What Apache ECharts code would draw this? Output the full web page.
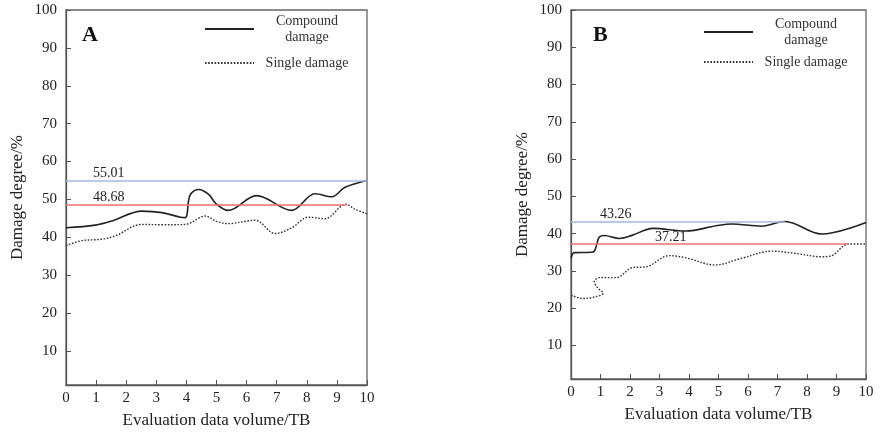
<!DOCTYPE html>
<html>
<head>
<meta charset="utf-8">
<script src="https://cdn.jsdelivr.net/npm/echarts@6/dist/echarts.min.js"></script>
<style>html,body{margin:0;padding:0;background:#fff;}#c{width:882px;height:434px;}</style>
</head>
<body>
<div id="c"></div>
<script>
// ---- data ----
const xTicks = [0, 1, 2, 3, 4, 5, 6, 7, 8, 9, 10];
const yTicks = [10, 20, 30, 40, 50, 60, 70, 80, 90, 100];
const seriesNames = ['Compound damage', 'Single damage'];

const compoundA = [[0, 42.5], [0.97, 43.2], [1.53, 44.3], [2.52, 46.9], [3.19, 46.5], [3.8, 45.3], [3.97, 45.2], [4.03, 46.5], [4.06, 49.0], [4.14, 51.4], [4.41, 52.6], [4.74, 51.3], [4.98, 48.9], [5.39, 47.1], [6.33, 51.0], [7.5, 47.1], [8.27, 51.5], [8.83, 50.7], [9.27, 53.2], [10, 55.0]];
const singleA = [[0, 37.8], [0.53, 39.1], [1.2, 39.5], [1.64, 40.4], [2.52, 43.4], [3.19, 43.3], [3.96, 43.4], [4.63, 45.6], [5.0, 44.2], [5.39, 43.6], [6.28, 44.5], [6.95, 41.0], [7.5, 42.5], [8.05, 45.3], [8.6, 44.9], [9.3, 48.7], [9.6, 47.4], [10, 46.2]];
const compoundB = [[0, 33.4], [0.11, 34.9], [0.68, 35.0], [0.79, 35.3], [0.87, 37.0], [0.96, 39.1], [1.13, 39.5], [1.64, 38.7], [2.09, 39.6], [2.77, 41.4], [3.9, 40.7], [4.92, 42.1], [5.45, 42.6], [6.46, 42.0], [7.25, 43.26], [8.5, 39.9], [10, 43.0]];
const singleB = [[0, 23.5], [0.4, 22.6], [0.85, 23.1], [1.09, 24.0], [0.9, 25.5], [0.79, 27.1], [0.96, 28.2], [1.53, 28.2], [2.09, 30.9], [2.54, 31.1], [3.33, 34.1], [3.9, 33.5], [4.88, 31.6], [5.79, 33.4], [6.8, 35.3], [7.6, 34.7], [8.5, 33.8], [8.84, 34.1], [9.4, 37.2], [10, 37.2]];

const refA = [55.01, 48.68];
const refAEnd = [10, 9.33];
const refB = [43.26, 37.21];
const refBEnd = [7.25, 9.4];
const refColors = ['#a3badf', '#f07272'];
const panelLabels = ['A', 'B'];

// ---- chart ----
const FONT = '"Liberation Serif", "Times New Roman", serif';
const grids = [
  {left: 66, top: 10, width: 301, height: 378},
  {left: 571, top: 10, width: 295, height: 369}
];

function xAxisFor(i) {
  return {
    type: 'value', gridIndex: i, min: 0, max: 10, interval: 1,
    name: 'Evaluation data volume/TB', nameLocation: 'middle', nameGap: 27,
    nameTextStyle: {fontFamily: FONT, fontSize: 17, color: '#222'},
    axisLine: {show: true, lineStyle: {color: '#555', width: 1.3}},
    axisTick: {show: true, inside: true, length: 5, lineStyle: {color: '#555'}},
    axisLabel: {fontFamily: FONT, fontSize: 15, color: '#222', margin: 6, formatter: v => xTicks.includes(v) ? String(v) : ''},
    splitLine: {show: false}
  };
}
function yAxisFor(i) {
  return {
    type: 'value', gridIndex: i, min: 1, max: 100,
    name: 'Damage degree/%', nameLocation: 'middle', nameGap: 40,
    nameTextStyle: {fontFamily: FONT, fontSize: 17, color: '#222'},
    axisLine: {show: true, lineStyle: {color: '#555', width: 1.3}},
    axisTick: {show: true, inside: true, length: 5, customValues: yTicks, lineStyle: {color: '#555'}},
    axisLabel: {fontFamily: FONT, fontSize: 15, color: '#222', margin: 9, customValues: yTicks},
    splitLine: {show: false}
  };
}
function dataSeries(i, name, data, dotted) {
  return {
    type: 'line', name: name, xAxisIndex: i, yAxisIndex: i, data: data,
    smooth: 0.35, symbol: 'none', animation: false,
    itemStyle: {color: '#222'},
    lineStyle: dotted ? {color: '#333', width: 1.4, type: [1.6, 1.6]} : {color: '#222', width: 1.6}
  };
}
function refSeries(i, vals, ends, dists) {
  return {
    type: 'line', name: 'ref' + i, xAxisIndex: i, yAxisIndex: i, data: [],
    animation: false,
    markLine: {
      silent: true, symbol: ['none', 'none'], animation: false,
      data: vals.map((v, k) => [
        {coord: [0, v], lineStyle: {color: refColors[k], width: 1.5, type: 'solid'},
         label: {show: true, position: 'insideStartTop', formatter: String(v), distance: dists[k],
                 fontFamily: FONT, fontSize: 14, color: '#222'}},
        {coord: [ends[k], v]}
      ])
    }
  };
}
function legendFor(i, left, top, gap) {
  return {
    show: true, orient: 'vertical', left: left, top: top, itemGap: gap,
    itemWidth: 49, itemHeight: 14,
    itemStyle: {opacity: 0},
    data: seriesNames,
    formatter: n => n === 'Compound damage' ? '{a|Compound}\n{a|damage}' : '{a|Single damage}',
    textStyle: {fontFamily: FONT, fontSize: 14, color: '#333',
      rich: {a: {width: 96, align: 'center', fontFamily: FONT, fontSize: 14, color: '#333', lineHeight: 16}}}
  };
}

const option = {
  backgroundColor: '#fff',
  animation: false,
  title: [
    {text: panelLabels[0], left: 77, top: 19, textStyle: {fontFamily: FONT, fontSize: 22, fontWeight: 'bold', color: '#111'}},
    {text: panelLabels[1], left: 588, top: 19, textStyle: {fontFamily: FONT, fontSize: 22, fontWeight: 'bold', color: '#111'}}
  ],
  legend: [legendFor(0, 199, 9, 12), legendFor(1, 698, 12, 8)],
  grid: grids.map(g => Object.assign({show: true, borderColor: '#666', borderWidth: 1.3}, g)),
  xAxis: [xAxisFor(0), xAxisFor(1)],
  yAxis: [yAxisFor(0), yAxisFor(1)],
  series: [
    dataSeries(0, seriesNames[0], compoundA, false),
    dataSeries(0, seriesNames[1], singleA, true),
    dataSeries(1, seriesNames[0], compoundB, false),
    dataSeries(1, seriesNames[1], singleB, true),
    refSeries(0, refA, refAEnd, [[27, 0], [27, 0]]),
    refSeries(1, refB, refBEnd, [[29, 0], [84, 0]])
  ]
};
const chart = echarts.init(document.getElementById('c'), null, {renderer: 'canvas'});
chart.setOption(option);
</script>
</body>
</html>
